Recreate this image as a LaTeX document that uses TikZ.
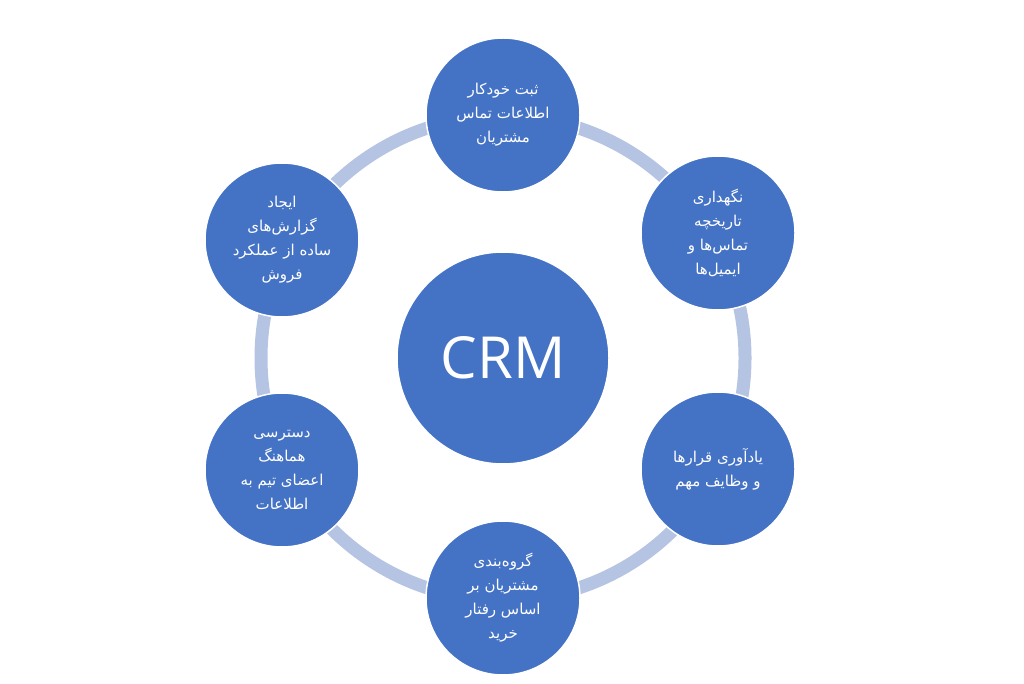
\documentclass[tikz,border=0pt]{standalone}
\usepackage{fontspec}
\setmainfont{Open Sans}
\newfontfamily\farsi[Script=Arabic]{DejaVu Sans}
\usepackage{tikz}
\usetikzlibrary{positioning}
\TeXXeTstate=1
\newcommand{\fa}[1]{{\farsi\beginR #1\endR}}
\definecolor{crmblue}{RGB}{68,114,196}
\definecolor{ringblue}{RGB}{180,196,226}

\begin{document}
\begin{tikzpicture}[x=1pt, y=1pt,
    hubnode/.style={circle, fill=crmblue, draw=white, line width=1.5pt, minimum size=212pt, text=white, font=\fontsize{58}{64}\selectfont},
    featnode/.style={circle, fill=crmblue, draw=white, line width=1.5pt, minimum size=154pt, text=white, align=center, font=\fontsize{15}{24}\selectfont}
    ]
        \useasboundingbox (0,0) rectangle (1024,683);
        %Ring
        \draw[ringblue, line width=13pt] (503,325) circle (242);

        %Nodes
        \node[hubnode] (crm) at (503,325) {CRM};
        \node[featnode] (contact) at (503,568)
            {\fa{ثبت خودکار}\\\fa{اطلاعات تماس}\\\fa{مشتریان}};
        \node[featnode] (history) at (718,450)
            {\fa{نگهداری}\\\fa{تاریخچه}\\\fa{تماس‌ها و}\\\fa{ایمیل‌ها}};
        \node[featnode] (remind) at (718,214)
            {\fa{یادآوری قرارها}\\\fa{و وظایف مهم}};
        \node[featnode] (segment) at (503,85)
            {\fa{گروه‌بندی}\\\fa{مشتریان بر}\\\fa{اساس رفتار}\\\fa{خرید}};
        \node[featnode] (access) at (282,213)
            {\fa{دسترسی}\\\fa{هماهنگ}\\\fa{اعضای تیم به}\\\fa{اطلاعات}};
        \node[featnode] (report) at (282,443)
            {\fa{ایجاد}\\\fa{گزارش‌های}\\\fa{ساده از عملکرد}\\\fa{فروش}};
    \end{tikzpicture}
\end{document}
